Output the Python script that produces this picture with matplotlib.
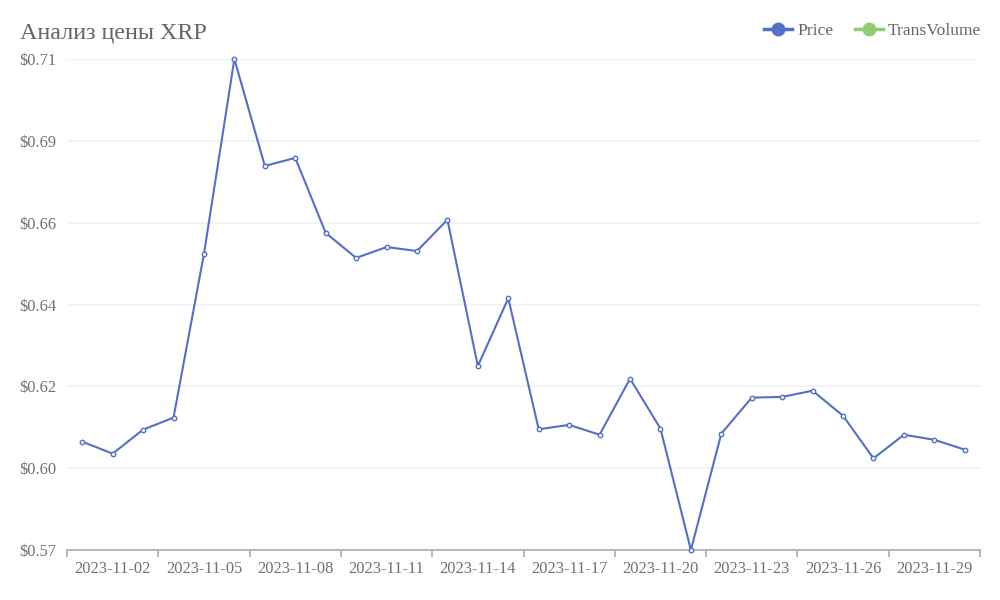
import matplotlib
matplotlib.use("Agg")
import matplotlib.pyplot as plt
from matplotlib.lines import Line2D
from matplotlib.ticker import FixedLocator, FuncFormatter

# XRP daily price, Nov 2023
dates = [f"2023-11-{d:02d}" for d in range(1, 31)]
price = [
    0.6028, 0.5995, 0.6061, 0.6094, 0.6544, 0.7080, 0.6786, 0.6808, 0.6602, 0.6533,
    0.6563, 0.6552, 0.6638, 0.6236, 0.6422, 0.6062, 0.6074, 0.6047, 0.6201, 0.6064,
    0.5730, 0.6050, 0.6149, 0.6151, 0.6168, 0.6099, 0.5982, 0.6047, 0.6033, 0.6006,
]
series_names = ["Price", "TransVolume"]
series_colors = ["#5470c6", "#91cc75"]
title = "Анализ цены XRP"

plt.rcParams["font.family"] = ["Liberation Serif", "DejaVu Serif"]

fig = plt.figure(figsize=(10, 6), dpi=100)
fig.patch.set_facecolor("white")
ax = fig.add_axes([0.067, 0.0833, 0.913, 0.8184])

x = list(range(len(dates)))
ax.plot(x, price, color=series_colors[0], linewidth=1.5, marker="o",
        markersize=3.2, markerfacecolor="white", markeredgecolor=series_colors[0],
        markeredgewidth=1.0, zorder=3, clip_on=False)

# y axis: data min/max with 6 equal splits
ymin, ymax = min(price), max(price)
ax.set_ylim(ymin, ymax)
yticks = [ymin + (ymax - ymin) * k / 6 for k in range(7)]
ax.yaxis.set_major_locator(FixedLocator(yticks))
ax.yaxis.set_major_formatter(FuncFormatter(lambda v, p: f"${v:.2f}"))
ax.grid(axis="y", color="#eef1f6", linewidth=1.2, zorder=0)
ax.tick_params(axis="y", length=0, pad=8, labelsize=11.8, labelcolor="#6e7079")

# x axis: category bands, labels every 3rd day, ticks at band edges
ax.set_xlim(-0.5, len(dates) - 0.5)
label_idx = list(range(1, len(dates), 3))
ax.set_xticks(label_idx)
ax.set_xticklabels([dates[i] for i in label_idx])
ax.set_xticks([i - 0.5 for i in range(0, len(dates) + 1, 3)], minor=True)
ax.tick_params(axis="x", which="major", length=0, pad=8, labelsize=11.8,
               labelcolor="#6e7079")
ax.tick_params(axis="x", which="minor", length=5, width=1.2, color="#aaaaaa")

for side in ["top", "right", "left"]:
    ax.spines[side].set_visible(False)
ax.spines["bottom"].set_color("#aaaaaa")
ax.spines["bottom"].set_linewidth(1.2)
ax.set_axisbelow(True)

fig.text(0.02, 0.944, title, fontsize=17.3, color="#666666", ha="left", va="center")

handles = [
    Line2D([0], [0], color=c, linewidth=2.5, marker="o", markersize=9,
           markerfacecolor=c, markeredgecolor=c)
    for c in series_colors
]
fig.legend(handles, series_names, loc="center right", bbox_to_anchor=(0.988, 0.948),
           ncol=2, frameon=False, fontsize=12.6, labelcolor="#666666",
           handlelength=1.6, handletextpad=0.3, columnspacing=1.2,
           borderpad=0.2, borderaxespad=0.2)

fig.savefig("out.png", dpi=100, facecolor="white")
